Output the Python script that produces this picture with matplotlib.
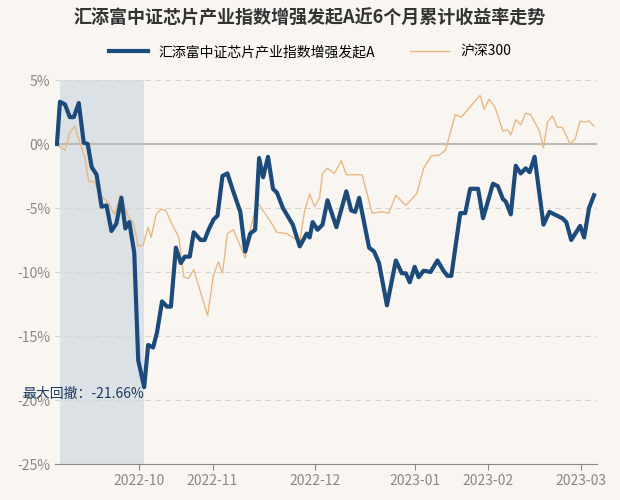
import matplotlib.pyplot as plt

plt.rcParams['font.family'] = ['Noto Sans CJK SC', 'DejaVu Sans']

# horizontal positions in chart time units (trading-day scale)
fund_t = [0, 3, 8, 13, 17, 22, 27, 31, 35, 40, 45, 50, 55, 60, 65, 69, 73, 78, 82, 88,
          92, 97, 101, 106, 111, 115, 120, 125, 129, 134, 138, 145, 149, 153, 158, 162,
          167, 172, 177, 185, 190, 195, 200, 204, 208, 213, 218, 222, 228, 238, 245,
          252, 255, 258, 263, 268, 273, 282, 292, 297, 301, 305, 315, 320, 325, 333,
          342, 348, 352, 356, 361, 365, 370, 377, 384, 390, 394, 398, 407, 412, 417,
          425, 430, 440, 445, 450, 453, 458, 463, 468, 473, 477, 482, 491, 497, 502,
          510, 514, 519, 528, 532, 537, 542]
fund_v = [0, 3.3, 3.1, 2.1, 2.1, 3.2, 0.1, 0, -1.8, -2.4, -4.9, -4.8, -6.8, -6.2, -4.2,
          -6.6, -6.1, -8.5, -16.9, -19.0, -15.7, -15.9, -14.7, -12.3, -12.7, -12.7,
          -8.1, -9.3, -8.8, -8.8, -6.9, -7.5, -7.5, -6.7, -5.9, -5.6, -2.5, -2.3, -3.5,
          -5.3, -8.4, -7.0, -6.7, -1.1, -2.6, -1.0, -3.5, -3.8, -5.0, -6.3, -8.0, -7.0,
          -7.3, -6.1, -6.7, -6.3, -4.4, -6.5, -3.7, -5.2, -5.3, -4.2, -8.1, -8.4, -9.3,
          -12.6, -9.1, -10.1, -10.1, -10.8, -9.6, -10.4, -9.9, -10.0, -9.1, -9.9, -10.3,
          -10.3, -5.4, -5.4, -3.5, -3.5, -5.8, -3.1, -3.3, -4.3, -4.5, -5.5, -1.7, -2.3,
          -1.9, -2.2, -1.0, -6.3, -5.3, -5.5, -5.8, -6.1, -7.5, -6.4, -7.3, -5.0, -4.0]

hs300_t = [0, 3, 8, 13, 18, 23, 28, 32, 38, 45, 52, 58, 64, 72, 77, 82, 87, 92, 95, 100,
           105, 110, 115, 123, 128, 133, 138, 145, 152, 158, 163, 167, 172, 178, 183,
           190, 195, 202, 208, 215, 222, 232, 238, 245, 250, 255, 260, 265, 268, 273,
           280, 287, 292, 298, 308, 318, 328, 335, 342, 352, 363, 370, 378, 385, 392,
           402, 408, 417, 427, 431, 436, 442, 450, 455, 458, 463, 468, 473, 478, 487,
           491, 495, 500, 505, 510, 518, 523, 528, 532, 537, 542]
hs300_v = [0, -0.2, -0.5, 0.9, 1.4, 0.1, -1.0, -2.9, -3.0, -4.1, -4.6, -5.5, -4.0, -5.7,
           -6.1, -8.0, -7.9, -6.5, -7.3, -5.5, -5.1, -5.2, -6.1, -7.3, -10.4, -10.5, -9.8,
           -11.6, -13.4, -10.2, -9.2, -10.1, -7.0, -6.7, -7.6, -8.9, -6.7, -4.5, -5.2,
           -6.0, -6.9, -7.0, -7.3, -7.6, -5.2, -3.9, -4.9, -4.2, -2.3, -1.9, -2.3, -1.3,
           -2.4, -2.4, -2.4, -5.4, -5.3, -5.4, -4.0, -4.8, -3.9, -1.9, -0.9, -0.9, -0.5,
           2.3, 2.1, 2.9, 3.8, 2.7, 3.5, 2.9, 1.0, 1.1, 0.7, 1.9, 1.5, 2.4, 2.3, 1.0, -0.3,
           1.7, 2.2, 1.3, 1.3, 0, 0.4, 1.8, 1.7, 1.8, 1.4]

tick_t = [83, 157, 260, 361, 435, 529]
tick_labels = ['2022-10', '2022-11', '2022-12', '2023-01', '2023-02', '2023-03']
y_ticks = [5, 0, -5, -10, -15, -20, -25]
dd_start, dd_end = 3, 88

bg = '#f9f6f2'
fig = plt.figure(figsize=(6.2, 5), dpi=100, facecolor=bg)
ax = fig.add_axes([55 / 620, 36 / 500, 542 / 620, 384 / 500], facecolor=bg)

ax.axvspan(dd_start, dd_end, color='#d3dbe2', alpha=0.75, lw=0)
for y in y_ticks:
    if y != 0:
        ax.axhline(y, color='#d8d4cf', lw=0.8, ls=(0, (5, 4)))
ax.axhline(0, color='#bdbab6', lw=1.5)

ax.plot(hs300_t, hs300_v, color='#e8b883', lw=1, label='沪深300')
ax.plot(fund_t, fund_v, color='#1c4a7a', lw=3, label='汇添富中证芯片产业指数增强发起A', zorder=3)

ax.text(-35, -19.5, '最大回撤：-21.66%', fontsize=10, color='#1c3d63', va='center')

ax.set_xlim(-2, 545)
ax.set_ylim(-25, 5)
ax.set_yticks(y_ticks)
ax.set_yticklabels([f'{y}%' for y in y_ticks])
ax.set_xticks(tick_t)
ax.set_xticklabels(tick_labels)
ax.tick_params(axis='y', length=0, colors='#888888', labelsize=10)
ax.tick_params(axis='x', length=4, color='#888888', colors='#888888', labelsize=10)
for s in ['top', 'right', 'left']:
    ax.spines[s].set_visible(False)
ax.spines['bottom'].set_color('#888888')

h, l = ax.get_legend_handles_labels()
fig.legend(h[::-1], l[::-1], loc='center', bbox_to_anchor=(0.5, 1 - 52 / 500), ncol=2,
           frameon=False, fontsize=10, handlelength=2.8, columnspacing=2.5)
fig.text(0.5, 1 - 18 / 500, '汇添富中证芯片产业指数增强发起A近6个月累计收益率走势',
         ha='center', va='center', fontsize=13, fontweight='bold', color='#333333')

fig.savefig('out.png', dpi=100, facecolor=bg)
